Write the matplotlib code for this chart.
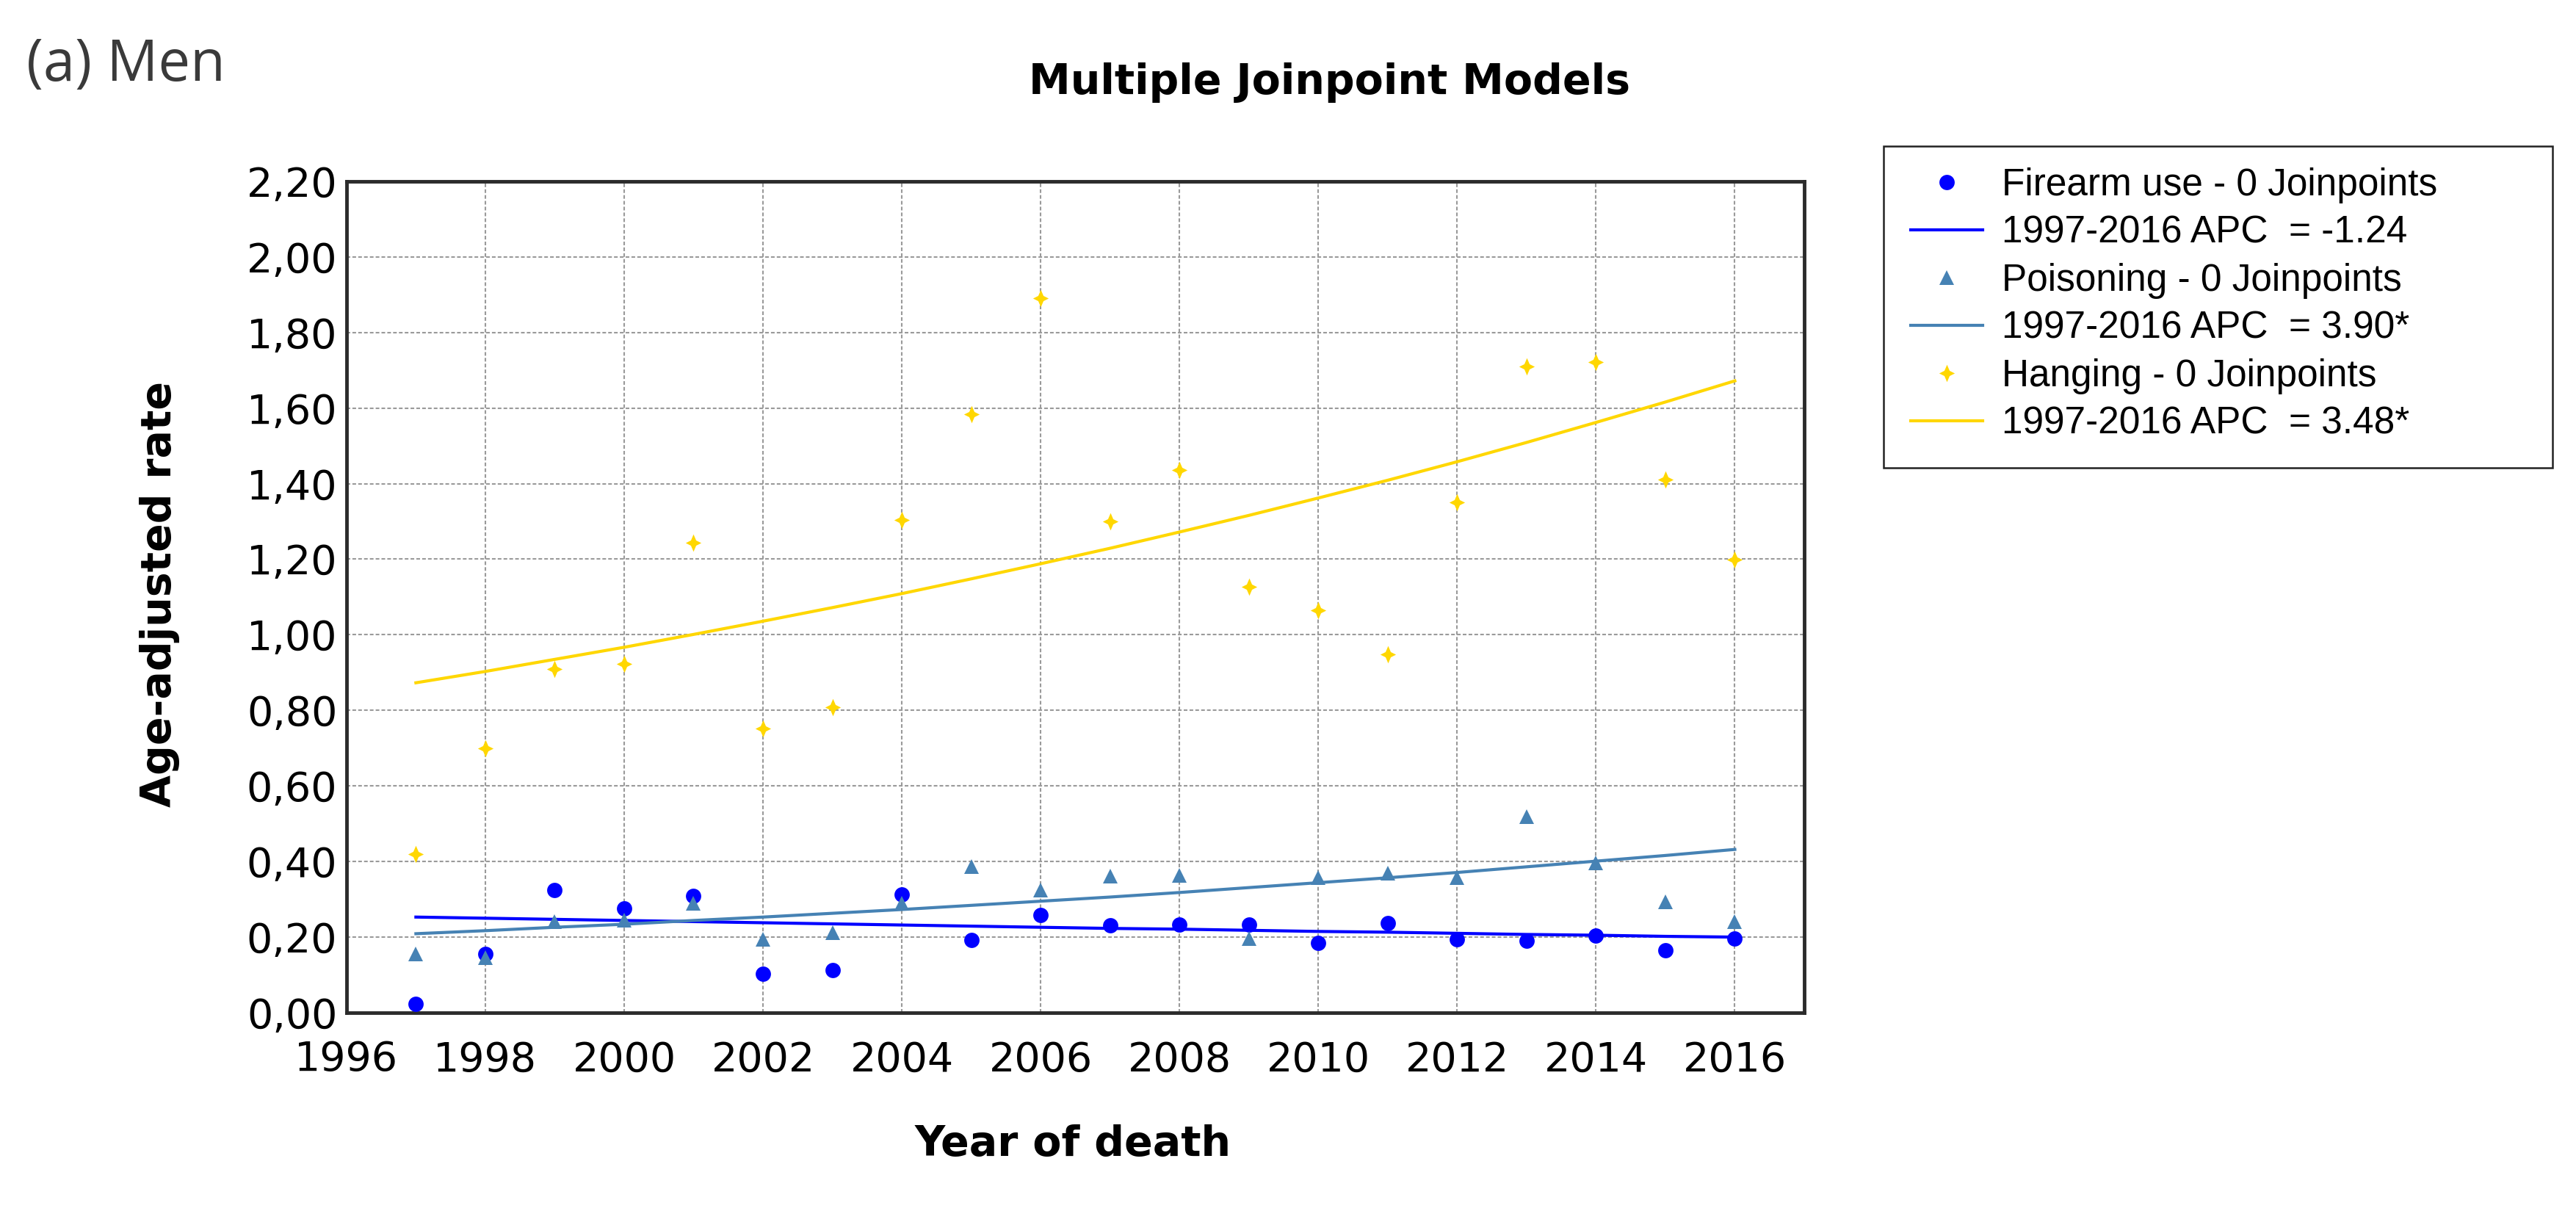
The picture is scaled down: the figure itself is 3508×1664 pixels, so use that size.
import matplotlib
matplotlib.use("Agg")
import matplotlib.pyplot as plt
from matplotlib.patches import Rectangle
from matplotlib.ticker import FuncFormatter

years = list(range(1997, 2017))

# observed age-adjusted rates
firearm = [0.024, 0.156, 0.325, 0.276, 0.309, 0.103, 0.113, 0.313, 0.192, 0.258,
           0.231, 0.233, 0.233, 0.185, 0.237, 0.195, 0.191, 0.204, 0.166, 0.197]
poisoning = [0.156, 0.146, 0.240, 0.245, 0.290, 0.195, 0.211, 0.290, 0.387, 0.324,
             0.361, 0.363, 0.197, 0.358, 0.369, 0.357, 0.519, 0.397, 0.294, 0.241]
hanging = [0.420, 0.700, 0.910, 0.924, 1.244, 0.752, 0.808, 1.303, 1.583, 1.891,
           1.300, 1.437, 1.128, 1.065, 0.948, 1.351, 1.710, 1.722, 1.411, 1.199]

# modelled (joinpoint) values
firearm_fit = [0.253, 0.250, 0.247, 0.244, 0.241, 0.238, 0.235, 0.232, 0.229, 0.226,
               0.223, 0.221, 0.218, 0.215, 0.213, 0.210, 0.207, 0.205, 0.202, 0.200]
poisoning_fit = [0.209, 0.217, 0.226, 0.234, 0.244, 0.253, 0.263, 0.273, 0.284, 0.295,
                 0.306, 0.318, 0.331, 0.344, 0.357, 0.371, 0.386, 0.401, 0.416, 0.432]
hanging_fit = [0.873, 0.903, 0.935, 0.967, 1.001, 1.036, 1.072, 1.109, 1.148, 1.188,
               1.229, 1.272, 1.316, 1.362, 1.409, 1.458, 1.509, 1.562, 1.616, 1.672]

labels = ["Firearm use - 0 Joinpoints", "1997-2016 APC  = -1.24",
          "Poisoning - 0 Joinpoints", "1997-2016 APC  = 3.90*",
          "Hanging - 0 Joinpoints", "1997-2016 APC  = 3.48*"]

x_ticks = list(range(1996, 2017, 2))
y_ticks = [0.0, 0.2, 0.4, 0.6, 0.8, 1.0, 1.2, 1.4, 1.6, 1.8, 2.0, 2.2]

blue = "#0000FF"
steel = "#4682B4"
gold = "#FFD700"

# four-pointed star like the JoinPoint marker
star = [(0, 1), (0.3, 0.3), (0.9, 0), (0.3, -0.3), (0, -1),
        (-0.3, -0.3), (-0.9, 0), (-0.3, 0.3), (0, 1)]

fig = plt.figure(figsize=(35.08, 16.64), dpi=100)
ax = fig.add_axes([0.1345, 0.1713, 0.5659, 0.6803])

p1, = ax.plot(years, firearm, "o", color=blue, ms=15, mew=0, zorder=4)
l1, = ax.plot(years, firearm_fit, "-", color=blue, lw=3, zorder=3)
p2, = ax.plot(years, poisoning, "^", color=steel, ms=15, mew=0, zorder=4)
l2, = ax.plot(years, poisoning_fit, "-", color=steel, lw=3, zorder=3)
p3, = ax.plot(years, hanging, marker=star, ls="none", color=gold, ms=17, mew=0, zorder=4)
l3, = ax.plot(years, hanging_fit, "-", color=gold, lw=3, zorder=3)

ax.set_xlim(1996, 2017)
ax.set_ylim(0, 2.2)
ax.set_xticks(x_ticks)
ax.set_yticks(y_ticks)
ax.yaxis.set_major_formatter(FuncFormatter(lambda v, p: f"{v:.2f}".replace(".", ",")))
ax.tick_params(axis="both", length=0, labelsize=40)
ax.tick_params(axis="x", pad=27)
ax.tick_params(axis="y", pad=9)

ax.grid(axis="both", color="#9a9a9a", lw=1.5, ls=(0, (2.4, 1.4)))
ax.set_axisbelow(True)
for s in ax.spines.values():
    s.set_linewidth(3.5)
    s.set_color("#2b2b2b")

fig.text(0.0619, 0.5138, "Age-adjusted rate", rotation=90, ha="center", va="center",
         fontsize=41, fontweight="bold")
fig.text(1461 / 3508, 1 - 1574 / 1664, "Year of death", ha="center", va="baseline",
         fontsize=41, fontweight="bold")
fig.text(1811 / 3508, 1 - 128 / 1664, "Multiple Joinpoint Models", ha="center",
         va="baseline", fontsize=41, fontweight="bold")
fig.text(36 / 3508, 1 - 110 / 1664, "(a) Men", ha="left", va="baseline",
         fontsize=56, family="Open Sans", color="#3a3a3a")

# legend box
fig.patches.append(Rectangle((2565 / 3508, 1 - 637 / 1664), 911 / 3508, 438 / 1664,
                             transform=fig.transFigure, facecolor="white",
                             edgecolor="#222222", lw=1.8))
fig.legend([p1, l1, p2, l2, p3, l3], labels, loc="upper left",
           bbox_to_anchor=(2602 / 3508, 1 - 228 / 1664), frameon=False,
           borderpad=0, borderaxespad=0, handlelength=1.9, handletextpad=0.52,
           labelspacing=0.31, numpoints=1,
           prop={"family": "Liberation Sans", "size": 37})

fig.savefig("out.png", dpi=100)
